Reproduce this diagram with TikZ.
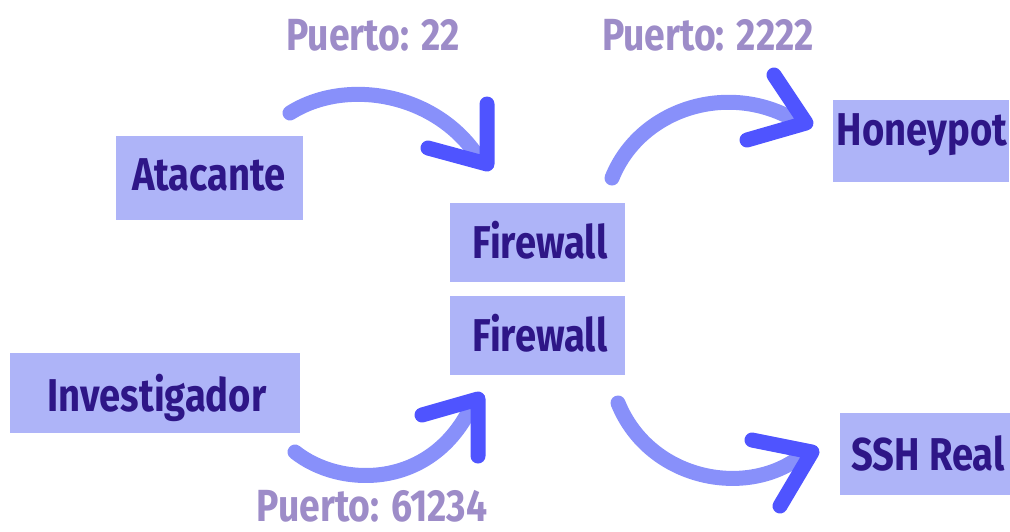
\documentclass[tikz,border=0pt]{standalone}
\usepackage{fontspec}
\newfontfamily\lblfont[FakeStretch=0.83]{Fira Sans}
\definecolor{boxfill}{RGB}{174,180,248}
\definecolor{boxtext}{RGB}{46,22,135}
\definecolor{porttext}{RGB}{157,140,200}
\definecolor{curvecol}{RGB}{136,144,250}
\definecolor{headcol}{RGB}{79,84,255}
\tikzset{
  boxnode/.style={fill=boxfill, draw=none, inner sep=0pt},
  boxlabel/.style={anchor=base, inner sep=0pt, text=boxtext, font=\lblfont\bfseries\fontsize{46}{46}\selectfont},
  portlabel/.style={anchor=base, inner sep=0pt, text=porttext, font=\lblfont\bfseries\fontsize{45}{45}\selectfont},
  curveline/.style={draw=curvecol, line width=15pt, line cap=round},
  headline/.style={draw=headcol, line width=15pt, line cap=round, line join=round},
}
\begin{document}
\begin{tikzpicture}[x=1pt, y=-1pt]
\useasboundingbox (0,0) rectangle (1010,531);

% boxes
\node[boxnode, minimum width=187pt, minimum height=84pt] (atk) at (209.5,178) {};
\node[boxnode, minimum width=175pt, minimum height=79pt] (fw1) at (537,242) {};
\node[boxnode, minimum width=175pt, minimum height=79pt] (fw2) at (537,335) {};
\node[boxnode, minimum width=290pt, minimum height=80pt] (inv) at (155,393) {};
\node[boxnode, minimum width=176pt, minimum height=82pt] (hp) at (921,141) {};
\node[boxnode, minimum width=170pt, minimum height=82pt] (ssh) at (925,454) {};

% box texts
\node[boxlabel] (atkL) at (209,190) {Atacante};
\node[boxlabel] (fw1L) at (540,258) {Firewall};
\node[boxlabel] (fw2L) at (540,351) {Firewall};
\node[boxlabel] (invL) at (157,411) {Investigador};
\node[boxlabel] (hpL) at (922,145) {Honeypot};
\node[boxlabel] (sshL) at (928,470) {SSH Real};

% port labels
\node[portlabel] (p22) at (373,50) {Puerto: 22};
\node[portlabel] (p2222) at (708,50) {Puerto: 2222};
\node[portlabel] (p61234) at (372,521) {Puerto: 61234};

% curve endpoints and arrowheads
\coordinate (c1s) at (290,113);
\coordinate (c1e) at (478,157);
\coordinate (t1) at (487,164);
\coordinate (t1a) at (487,104);
\coordinate (t1b) at (428,148);

\coordinate (c2s) at (612,178);
\coordinate (c2e) at (798,122);
\coordinate (t2) at (806,123);
\coordinate (t2a) at (774,75);
\coordinate (t2b) at (747,140);

\coordinate (c3s) at (295,452);
\coordinate (c3e) at (472,405);
\coordinate (t3) at (478,399);
\coordinate (t3a) at (422,415);
\coordinate (t3b) at (478,456);

\coordinate (c4s) at (618,403);
\coordinate (c4e) at (806,452);
\coordinate (t4) at (812,452);
\coordinate (t4a) at (752,440);
\coordinate (t4b) at (780,506);

% Atacante -> Firewall (port 22)
\draw[curveline] (c1s) .. controls (345,78) and (435,92) .. (c1e);
\draw[headline] (t1a) -- (t1) -- (t1b);

% Firewall -> Honeypot (port 2222)
\draw[curveline] (c2s) .. controls (640,108) and (730,80) .. (c2e);
\draw[headline] (t2a) -- (t2) -- (t2b);

% Investigador -> Firewall (port 61234)
\draw[curveline] (c3s) .. controls (340,488) and (432,490) .. (c3e);
\draw[headline] (t3a) -- (t3) -- (t3b);

% Firewall -> SSH Real
\draw[curveline] (c4s) .. controls (650,482) and (752,500) .. (c4e);
\draw[headline] (t4a) -- (t4) -- (t4b);
\end{tikzpicture}
\end{document}
